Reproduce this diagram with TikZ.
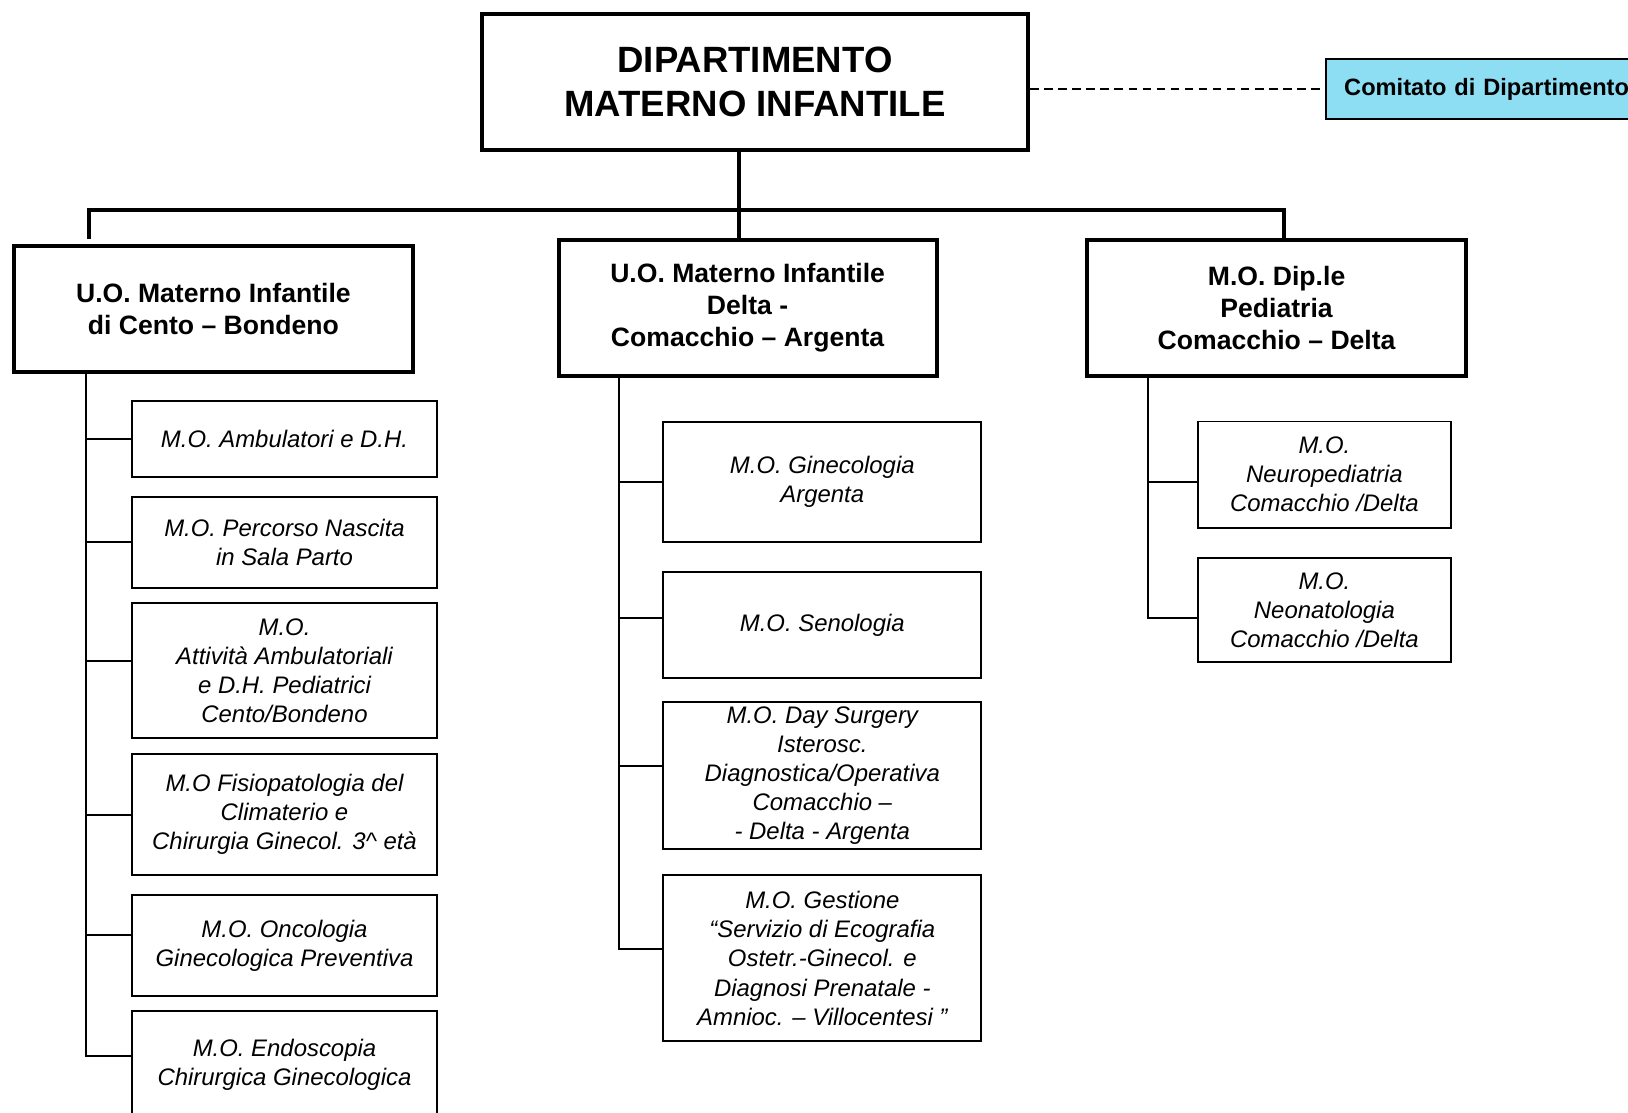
\documentclass[tikz,border=0pt]{standalone}
\usepackage{fontspec}
\setmainfont{Liberation Sans}
\usepackage{tikz}
\definecolor{comblue}{RGB}{141,221,243}

\begin{document}
\begin{tikzpicture}[x=0.025cm,y=-0.025cm,line join=miter]
\tikzstyle{dipbox}=[draw=black,line width=2.9pt,align=center,
  minimum width=13.65cm,minimum height=3.42cm,
  font=\bfseries\fontsize{26}{31.7}\selectfont]
\tikzstyle{combox}=[draw=black,fill=comblue,line width=1.1pt,anchor=west,
  align=left,text width=9cm,inner xsep=0.46cm,minimum height=1.5cm,
  font=\bfseries\fontsize{16.8}{20}\selectfont]
\tikzstyle{uobox}=[draw=black,line width=2.9pt,align=center,
  font=\bfseries\fontsize{18.9}{22.9}\selectfont]
\tikzstyle{mobox}=[draw=black,line width=1.4pt,align=center,
  font=\itshape\fontsize{17}{20.7}\selectfont]
\tikzstyle{bar}=[line width=2.9pt]
\tikzstyle{link}=[line width=1.5pt]
\useasboundingbox (0,0) rectangle (1628,1112);

\node[dipbox] (dip) at (755,82) {DIPARTIMENTO\\MATERNO INFANTILE};
\node[combox] (com) at (1325,89) {Comitato di Dipartimento};

\node[uobox,minimum width=9.99cm,minimum height=3.14cm] (cento) at (213.4,308.9)
  {U.O. Materno Infantile\\di Cento -- Bondeno};
\node[uobox,minimum width=9.45cm,minimum height=3.4cm] (delta) at (747.6,307.9)
  {U.O. Materno Infantile\\Delta -\\Comacchio -- Argenta};
\node[uobox,minimum width=9.475cm,minimum height=3.4cm] (ped) at (1276.6,307.9)
  {M.O. Dip.le\\Pediatria\\Comacchio -- Delta};

% Cento - Bondeno
\node[mobox,minimum width=7.63cm,minimum height=1.9cm] (c1) at (284.5,438.7)
  {M.O. Ambulatori e D.H.};
\node[mobox,minimum width=7.63cm,minimum height=2.26cm] (c2) at (284.5,542.5)
  {M.O. Percorso Nascita\\in Sala Parto};
\node[mobox,minimum width=7.63cm,minimum height=3.37cm] (c3) at (284.5,670.7)
  {M.O.\\Attività Ambulatoriali\\e D.H. Pediatrici\\Cento/Bondeno};
\node[mobox,minimum width=7.63cm,minimum height=3.04cm] (c4) at (284.5,814.6)
  {M.O Fisiopatologia del\\Climaterio e\\Chirurgia Ginecol. 3\textasciicircum{} età};
\node[mobox,minimum width=7.63cm,minimum height=2.52cm] (c5) at (284.5,945.4)
  {M.O. Oncologia\\Ginecologica Preventiva};
\node[mobox,minimum width=7.63cm,minimum height=2.68cm] (c6) at (284.5,1065)
  {M.O. Endoscopia\\Chirurgica Ginecologica};

% Delta - Comacchio - Argenta
\node[mobox,minimum width=7.94cm,minimum height=3.01cm] (d1) at (822.3,481.8)
  {M.O. Ginecologia\\Argenta};
\node[mobox,minimum width=7.94cm,minimum height=2.65cm] (d2) at (822.3,625)
  {M.O. Senologia};
\node[mobox,minimum width=7.94cm,minimum height=3.63cm] (d3) at (822.3,775.6)
  {M.O. Day Surgery\\Isterosc.\\Diagnostica/Operativa\\Comacchio --\\- Delta - Argenta};
\node[mobox,minimum width=7.94cm,minimum height=4.15cm] (d4) at (822.3,958.4)
  {M.O. Gestione\\“Servizio di Ecografia\\Ostetr.-Ginecol. e\\Diagnosi Prenatale -\\Amnioc. -- Villocentesi ”};

% Pediatria
\node[mobox,minimum width=6.31cm,minimum height=2.65cm] (p1) at (1324.4,474.5)
  {M.O.\\Neuropediatria\\Comacchio /Delta};
\node[mobox,minimum width=6.31cm,minimum height=2.62cm] (p2) at (1324.4,610)
  {M.O.\\Neonatologia\\Comacchio /Delta};

\coordinate (j) at (739.3,209.7);
\coordinate (bl) at (89.3,209.7);
\coordinate (br) at (1284.4,209.7);
\coordinate (tc) at (86.2,371.7);
\coordinate (td) at (618.8,375.9);
\coordinate (tp) at (1148.4,375.9);

\draw[dashed,line width=1pt,dash pattern=on 6pt off 4pt] (dip.east |- com.west) -- (com.west);
\draw[bar] (dip.south -| j) -- (delta.north -| j);
\draw[bar] ([yshift=3.5pt]cento.north -| bl) -- (bl) -- (br) -- (ped.north -| br);

\draw[link] (tc) |- (c1.west);
\draw[link] (tc) |- ([yshift=0.6pt]c2.west);
\draw[link] (tc) |- ([yshift=6.6pt]c3.west);
\draw[link] (tc) |- (c4.west);
\draw[link] (tc) |- ([yshift=7.7pt]c5.west);
\draw[link] (tc) |- ([yshift=6.4pt]c6.west);

\draw[link] (td) |- (d1.west);
\draw[link] (td) |- ([yshift=5.1pt]d2.west);
\draw[link] (td) |- ([yshift=6.6pt]d3.west);
\draw[link] (td) |- ([yshift=6.7pt]d4.west);

\draw[link] (tp) |- ([yshift=-5.2pt]p1.west);
\draw[link] (tp) |- ([yshift=-5.5pt]p2.west);

\end{tikzpicture}
\end{document}
